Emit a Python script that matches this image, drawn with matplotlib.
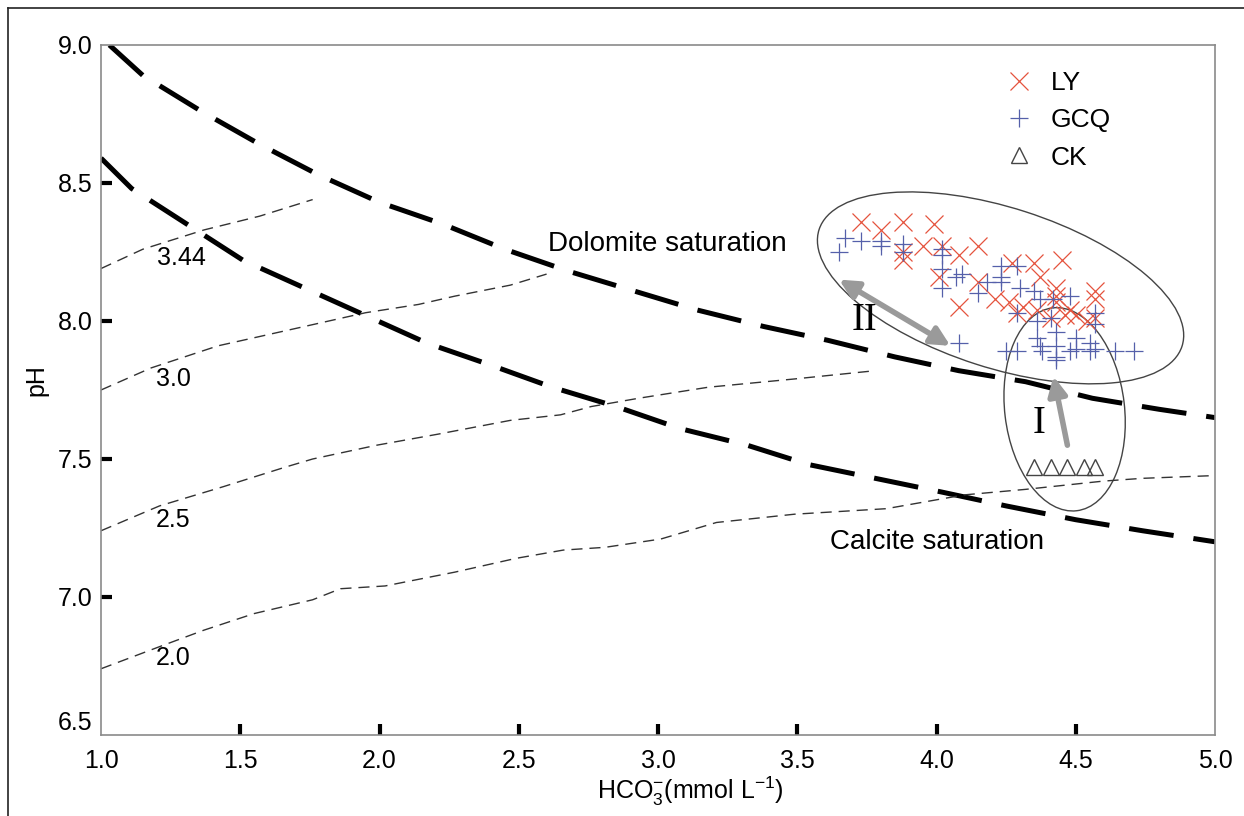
import numpy as np
import matplotlib
matplotlib.use("Agg")
import matplotlib.pyplot as plt
from matplotlib.lines import Line2D
from matplotlib.patches import Ellipse

# Saturation curves (HCO3- in mmol/L, pH)
dol_x = [1.03, 1.15, 1.36, 1.57, 1.78, 2.00, 2.23, 2.45, 2.68, 2.91, 3.14,
         3.38, 3.61, 3.85, 4.08, 4.32, 4.56, 4.80, 5.00]
dol_y = [9.00, 8.89, 8.76, 8.64, 8.53, 8.43, 8.35, 8.26, 8.18, 8.11, 8.04,
         7.98, 7.93, 7.87, 7.82, 7.78, 7.72, 7.68, 7.65]
cal_x = [1.00, 1.11, 1.31, 1.51, 1.73, 1.95, 2.17, 2.40, 2.62, 2.85, 3.08,
         3.32, 3.54, 3.78, 4.02, 4.25, 4.50, 4.74, 5.00]
cal_y = [8.59, 8.48, 8.35, 8.22, 8.12, 8.02, 7.92, 7.84, 7.76, 7.69, 7.61,
         7.55, 7.48, 7.43, 7.38, 7.33, 7.28, 7.24, 7.20]

# Isolines with their labels
iso_344_x = [1.00, 1.15, 1.37, 1.57, 1.76]
iso_344_y = [8.19, 8.26, 8.33, 8.38, 8.44]
iso_30_x = [1.00, 1.18, 1.42, 1.73, 1.95, 2.14, 2.27, 2.47, 2.60]
iso_30_y = [7.75, 7.83, 7.91, 7.98, 8.03, 8.06, 8.09, 8.13, 8.17]
iso_25_x = [1.00, 1.21, 1.44, 1.66, 1.76, 1.99, 2.21, 2.47, 2.65, 2.76,
            2.93, 3.18, 3.49, 3.78]
iso_25_y = [7.24, 7.33, 7.40, 7.47, 7.50, 7.55, 7.59, 7.64, 7.66, 7.69,
            7.72, 7.76, 7.79, 7.82]
iso_20_x = [1.00, 1.21, 1.37, 1.55, 1.76, 1.86, 2.02, 2.27, 2.49, 2.66,
            2.81, 3.01, 3.21, 3.49, 3.82, 4.10, 4.32, 4.60, 4.74, 5.00]
iso_20_y = [6.74, 6.82, 6.88, 6.94, 6.99, 7.03, 7.04, 7.09, 7.14, 7.17,
            7.18, 7.21, 7.27, 7.30, 7.32, 7.37, 7.39, 7.42, 7.43, 7.44]
iso_labels = ["3.44", "3.0", "2.5", "2.0"]
iso_label_x = [1.29, 1.26, 1.26, 1.26]
iso_label_y = [8.23, 7.79, 7.28, 6.78]

# Samples
ly_x = [3.73, 3.80, 3.88, 3.99, 3.88, 3.88, 3.95, 4.02, 4.08, 4.15, 4.01,
        4.08, 4.15, 4.27, 4.35, 4.45, 4.37, 4.21, 4.26, 4.31, 4.36, 4.43,
        4.43, 4.48, 4.50, 4.57, 4.57, 4.57, 4.54, 4.41, 4.29, 4.46, 4.43]
ly_y = [8.36, 8.33, 8.36, 8.35, 8.25, 8.22, 8.27, 8.27, 8.24, 8.27, 8.16,
        8.05, 8.14, 8.21, 8.21, 8.22, 8.16, 8.08, 8.07, 8.05, 8.04, 8.12,
        8.07, 8.04, 8.02, 8.11, 8.08, 8.01, 8.00, 8.01, 8.03, 8.02, 8.09]
gcq_x = [3.65, 3.67, 3.73, 3.80, 3.80, 3.88, 3.88, 4.02, 4.02, 4.02, 4.02,
         4.07, 4.09, 4.15, 4.18, 4.23, 4.23, 4.23, 4.29, 4.30, 4.35, 4.37,
         4.42, 4.48, 4.29, 4.36, 4.41, 4.57, 4.57, 4.08, 4.29, 4.36, 4.37,
         4.43, 4.43, 4.43, 4.50, 4.50, 4.55, 4.57, 4.64, 4.71, 4.38, 4.48,
         4.55, 4.43, 4.25]
gcq_y = [8.25, 8.30, 8.29, 8.29, 8.27, 8.28, 8.25, 8.26, 8.24, 8.19, 8.12,
         8.16, 8.17, 8.10, 8.14, 8.20, 8.16, 8.14, 8.20, 8.12, 8.11, 8.08,
         8.08, 8.09, 8.03, 8.00, 8.01, 8.03, 7.99, 7.92, 7.89, 7.94, 7.91,
         7.96, 7.91, 7.87, 7.94, 7.90, 7.92, 7.90, 7.89, 7.89, 7.89, 7.89,
         7.89, 7.86, 7.89]
ck_x = [4.35, 4.41, 4.47, 4.53, 4.57]
ck_y = [7.47, 7.47, 7.47, 7.47, 7.47]

x_ticks = [1.0, 1.5, 2.0, 2.5, 3.0, 3.5, 4.0, 4.5, 5.0]
y_ticks = [6.5, 7.0, 7.5, 8.0, 8.5, 9.0]

RED = "#e5533d"
BLUE = "#5560aa"
ARROW = "#9a9a9a"
FS = 18


def main():
    plt.rcParams["font.family"] = ["Liberation Sans", "DejaVu Sans"]
    plt.rcParams["mathtext.fontset"] = "custom"
    plt.rcParams["mathtext.rm"] = "Liberation Sans"
    plt.rcParams["mathtext.it"] = "Liberation Sans"
    fig = plt.figure(figsize=(12.44, 8.16), dpi=100)
    ax = fig.add_axes([101 / 1244, 81 / 816, 1114 / 1244, 690 / 816])

    # page border, top and left edges only
    W, H = 1244, 816
    fig.add_artist(Line2D([8 / W, 1.0], [1 - 8 / H, 1 - 8 / H],
                          transform=fig.transFigure, color="#222", lw=1.2))
    fig.add_artist(Line2D([8 / W, 8 / W], [0.0, 1 - 8 / H],
                          transform=fig.transFigure, color="#222", lw=1.2))

    thick = dict(color="black", lw=3.6, ls=(0, (9, 4)),
                 dash_capstyle="butt", solid_capstyle="butt")
    ax.plot(dol_x, dol_y, **thick)
    ax.plot(cal_x, cal_y, **thick)

    thin = dict(color="#333333", lw=1.0, ls=(0, (8, 5)))
    for xs, ys in [(iso_344_x, iso_344_y), (iso_30_x, iso_30_y),
                   (iso_25_x, iso_25_y), (iso_20_x, iso_20_y)]:
        ax.plot(xs, ys, **thin)
    for lab, lx, ly in zip(iso_labels, iso_label_x, iso_label_y):
        ax.text(lx, ly, lab, fontsize=FS, ha="center", va="center")

    ax.text(2.605, 8.28, "Dolomite saturation", fontsize=FS + 2,
            ha="left", va="center")
    ax.text(3.617, 7.20, "Calcite saturation", fontsize=FS + 2,
            ha="left", va="center")

    ax.plot(ly_x, ly_y, ls="none", marker="x", ms=13, mew=0.9,
            color=RED, label="LY")
    ax.plot(gcq_x, gcq_y, ls="none", marker="+", ms=13, mew=0.9,
            color=BLUE, label="GCQ")
    ax.plot(ck_x, ck_y, ls="none", marker="^", ms=12, mew=1.0,
            mfc="none", mec="#444444", label="CK")

    # groupings
    ax.add_patch(Ellipse((4.23, 8.12), 1.37, 0.58, angle=-18,
                         fill=False, ec="#444444", lw=1.0))
    ax.add_patch(Ellipse((4.46, 7.68), 0.74, 0.43, angle=96.7,
                         fill=False, ec="#444444", lw=1.0))

    ax.annotate("", xy=(4.05, 7.91), xytext=(3.65, 8.15),
                arrowprops=dict(arrowstyle="<|-|>", color=ARROW, lw=4,
                                mutation_scale=28, shrinkA=0, shrinkB=0))
    ax.annotate("", xy=(4.42, 7.80), xytext=(4.47, 7.55),
                arrowprops=dict(arrowstyle="-|>", color=ARROW, lw=4,
                                mutation_scale=28, shrinkA=0, shrinkB=0))
    ax.text(3.74, 8.00, "II", fontsize=28, family="Liberation Serif",
            ha="center", va="center")
    ax.text(4.37, 7.63, "I", fontsize=28, family="Liberation Serif",
            ha="center", va="center")

    ax.set_xlim(1.0, 5.0)
    ax.set_ylim(6.5, 9.0)
    ax.set_xticks(x_ticks)
    ax.set_yticks(y_ticks)
    ax.set_xticklabels([f"{v:.1f}" for v in x_ticks])
    ax.set_yticklabels([f"{v:.1f}" for v in y_ticks])
    ax.tick_params(direction="in", length=8, width=3, color="black",
                   labelsize=FS, pad=10)
    ax.tick_params(axis="y", pad=6)
    # no tick marks at the corners
    for axis in (ax.xaxis, ax.yaxis):
        ticks = axis.get_major_ticks()
        for t in (ticks[0], ticks[-1]):
            t.tick1line.set_visible(False)
    ax.yaxis.get_major_ticks()[0].label1.set_va("bottom")
    for s in ax.spines.values():
        s.set_color("#8a8a8a")
        s.set_linewidth(1.2)

    ax.set_xlabel(r"HCO$_3^{-}$(mmol L$^{-1}$)", fontsize=FS)
    ax.xaxis.set_label_coords(0.529, -0.057)
    ax.set_ylabel("pH", fontsize=FS)
    ax.yaxis.set_label_coords(-0.047, 0.514)

    ax.legend(loc="upper left", bbox_to_anchor=(0.812, 0.962), frameon=False,
              fontsize=FS + 1, borderpad=0, borderaxespad=0, handlelength=1.0,
              handletextpad=0.7, labelspacing=0.5)

    fig.savefig("out.png", dpi=100)
    plt.close(fig)


if __name__ == "__main__":
    main()
